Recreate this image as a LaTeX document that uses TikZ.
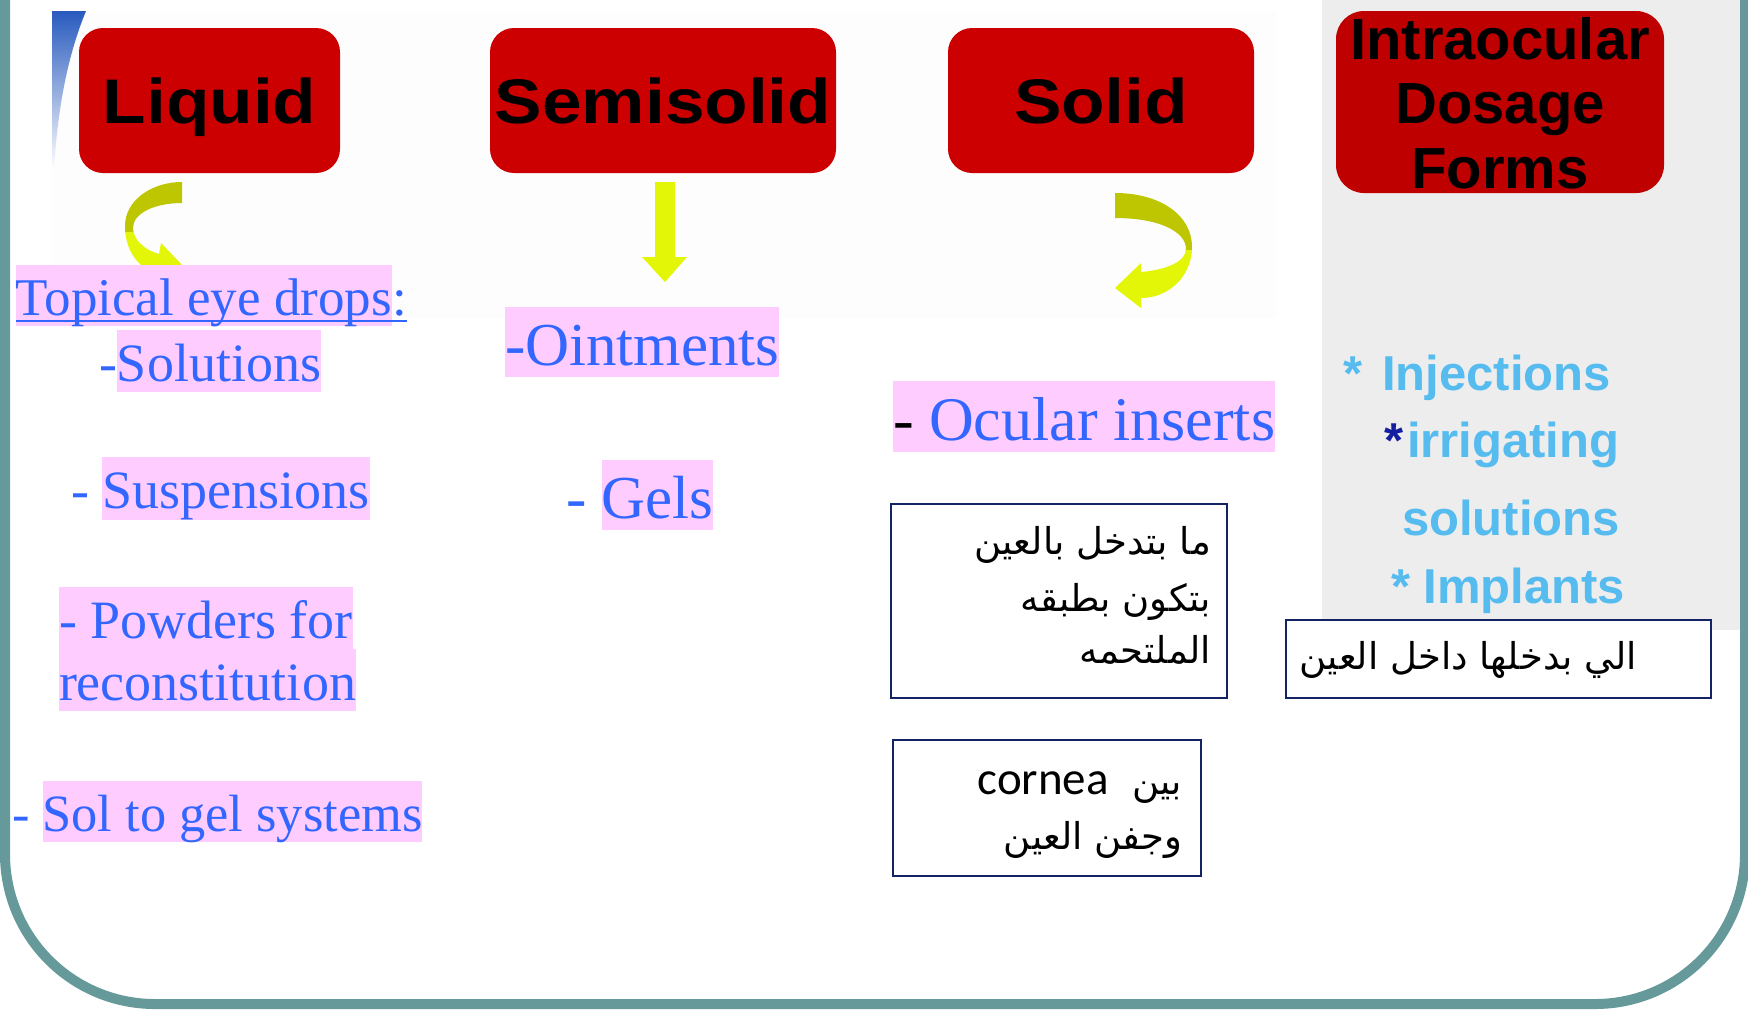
\documentclass[tikz,border=0pt]{standalone}
\usepackage{graphicx}
\usepackage{fontspec}
\setmainfont{Liberation Serif}
\newfontfamily\arialfont{Liberation Sans}
\newfontfamily\calfont{Carlito}
\newfontfamily\arabicfont[Script=Arabic]{DejaVu Sans}
\TeXXeTstate=1
\definecolor{teal2}{RGB}{102,153,153}
\definecolor{boxred}{RGB}{204,0,0}
\definecolor{boxred2}{RGB}{190,0,0}
\definecolor{hlpink}{RGB}{255,204,255}
\definecolor{txtblue}{RGB}{51,102,255}
\definecolor{lblue}{RGB}{86,187,238}
\definecolor{navyast}{RGB}{20,30,160}
\definecolor{boxnavy}{RGB}{20,35,100}
\definecolor{panelgray}{RGB}{237,237,237}
\definecolor{faint}{RGB}{253,253,253}
\definecolor{olive2}{RGB}{189,198,0}
\definecolor{yel2}{RGB}{228,246,8}
\definecolor{sliverblue}{RGB}{40,90,190}
\newcommand\hlbox[1]{{\setlength\fboxsep{0pt}\colorbox{hlpink}{\rule[-0.2em]{0pt}{1.15em}#1}}}
\newcommand\wide[1]{\scalebox{1.13}[1]{#1}}
\def\liqpath{(182,182) .. controls (152,182) and (125,200) .. (125,226) .. controls (125,250) and (138,268) .. (155,272) -- (153,283) -- (186,269) -- (161,243) -- (159,254) .. controls (145,250) and (133,240) .. (133,228) .. controls (133,213) and (155,203) .. (182,203) -- cycle}
\def\solpath{(1115,193) .. controls (1160,193) and (1192,215) .. (1192,247) .. controls (1192,275) and (1170,298) .. (1141,298) -- (1141,308) -- (1115,288) -- (1141,263) -- (1141,272) .. controls (1165,270) and (1186,262) .. (1186,249) .. controls (1186,232) and (1160,218) .. (1115,218) -- cycle}
\tikzset{
  every node/.style={inner sep=0pt, outer sep=0pt},
  redbox/.style={fill=boxred, rounded corners=12pt, text height=22.5pt, text depth=0pt,
    font=\arialfont\bfseries\fontsize{31.5}{36}\selectfont},
  item/.style={anchor=base west, text=txtblue, font=\fontsize{27}{32}\selectfont},
  bigitem/.style={item, font=\fontsize{30.5}{36}\selectfont},
  note/.style={draw=boxnavy, line width=1pt, fill=white},
  arab/.style={anchor=base east, font=\arabicfont\fontsize{18.5}{22}\selectfont},
  ioitem/.style={anchor=base west, text=lblue, font=\arialfont\bfseries\fontsize{24.5}{28}\selectfont},
}
\begin{document}
\begin{tikzpicture}[x=0.5pt, y=-0.5pt]
\useasboundingbox (0,0) rectangle (1748,1009);
\fill[white] (0,0) rectangle (1748,1009);
% background panels
\fill[faint] (52,11) rectangle (1276,318);
\shade[top color=sliverblue, bottom color=white] (52,11) -- (86,11) .. controls (70,50) and (58,100) .. (54,170) -- (52,170) -- cycle;
\fill[panelgray] (1322,0) rectangle (1746,630);
% frame
\draw[teal2, line width=5pt, rounded corners=75pt] (5,-20) -- (5,1004) -- (1745,1004) -- (1745,-20);

% category boxes
\node[redbox, minimum width=130.5pt, minimum height=72.5pt] (liquid) at (209.5,100.5) {\wide{Liquid}};
\node[redbox, minimum width=173pt, minimum height=72.5pt] (semi) at (663,100.5) {\wide{Semisolid}};
\node[redbox, minimum width=153pt, minimum height=72.5pt] (solid) at (1101,100.5) {\wide{Solid}};
\node[fill=boxred2, rounded corners=14pt, minimum width=164pt, minimum height=91pt] (intra) at (1500,102) {};
\node[anchor=north, align=center, font=\arialfont\bfseries\fontsize{29}{32.3}\selectfont] (intratext) at (1500,17) {Intraocular\\Dosage\\Forms};

% arrows
\begin{scope}\clip (0,0) rectangle (1748,232); \fill[olive2] \liqpath; \end{scope}
\begin{scope}\clip (0,232) rectangle (1748,1009); \fill[yel2] \liqpath; \end{scope}
\begin{scope}\clip (0,0) rectangle (1748,250); \fill[olive2] \solpath; \end{scope}
\begin{scope}\clip (0,250) rectangle (1748,1009); \fill[yel2] \solpath; \end{scope}
\fill[yel2] (655,182) -- (675,182) -- (675,257) -- (687,257) -- (665,282) -- (642,257) -- (655,257) -- cycle;

% liquid column
\node[item, font=\fontsize{26.5}{32}\selectfont] (topical) at (16,315) {\hlbox{Topical eye drops}};
\node[item, font=\fontsize{26.5}{32}\selectfont] (colon) at (topical.base east) {:};
\draw[txtblue, line width=1pt] ([yshift=-3pt]topical.base west) -- ([yshift=-3pt]colon.base east);
\node[item] (solutions) at (99,381) {-\hlbox{Solutions}};
\node[item] (susp) at (71,508) {- \hlbox{Suspensions}};
\node[item] (powders) at (59,638) {\hlbox{- Powders for}};
\node[item] (recon) at (59,700) {\hlbox{reconstitution}};
\node[item, font=\fontsize{26.2}{32}\selectfont] (solgel) at (12,831) {- \hlbox{Sol to gel systems}};

% semisolid column
\node[bigitem] (oint) at (505,365) {\hlbox{-Ointments}};
\node[bigitem] (gels) at (566,518) {- \hlbox{Gels}};

% solid column
\node[item, font=\fontsize{31}{36}\selectfont] (ocular) at (893,440) {\hlbox{\textcolor{black}{-} Ocular inserts}};
\node[note, minimum width=168pt, minimum height=97pt] (n1) at (1059,601) {};
\node[arab] (n1a) at (1211,554) {\beginR ما بتدخل بالعين\endR};
\node[arab] (n1b) at (1211,611) {\beginR بتكون بطبقه\endR};
\node[arab] (n1c) at (1211,663) {\beginR الملتحمه\endR};
\node[note, minimum width=154pt, minimum height=68pt] (n2) at (1047,808) {};
\node[arab] (n2a) at (1182,794) {\beginR بين\ \ {\calfont\fontsize{23.5}{28}\selectfont\beginL cornea\endL}\endR};
\node[arab] (n2b) at (1182,849) {\beginR وجفن العين\endR};

% intraocular column
\node[ioitem] (inj) at (1343,390) {*\hspace{10pt}Injections};
\node[ioitem] (irr) at (1384,457) {\textcolor{navyast}{*}\hspace{2pt}irrigating};
\node[ioitem] (sol2) at (1402,535) {solutions};
\node[ioitem] (impl) at (1391,603) {* Implants};
\node[note, minimum width=212.5pt, minimum height=39pt] (n3) at (1498.5,659) {};
\node[arab] (n3a) at (1637,669) {\beginR الي بدخلها داخل العين\endR};
\end{tikzpicture}
\end{document}
